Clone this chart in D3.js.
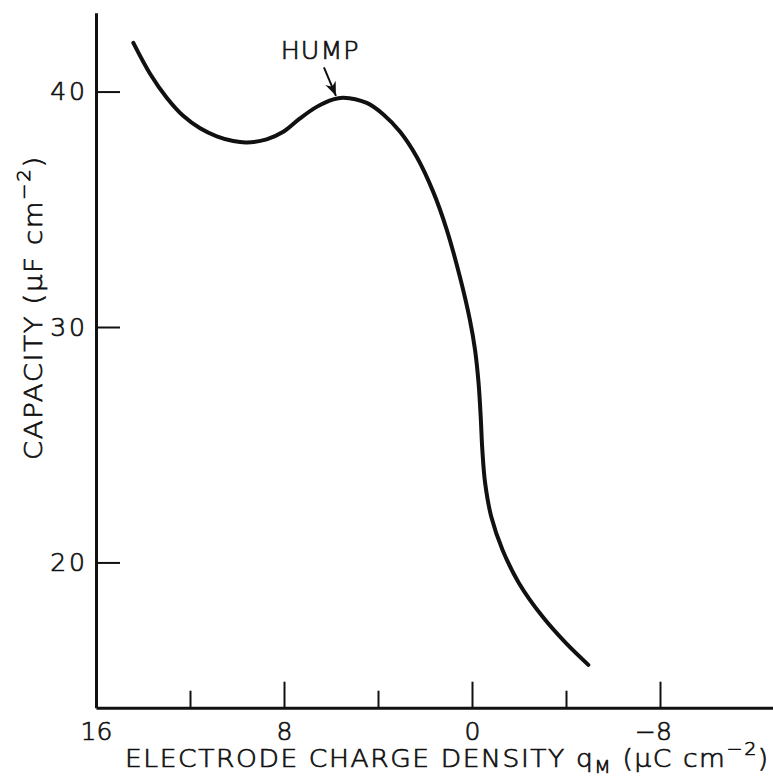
<!DOCTYPE html>
<html>
<head>
<meta charset="utf-8">
<script src="https://cdn.jsdelivr.net/npm/d3@7"></script>
<style>
  body { margin: 0; background: #fff; }
  svg { display: block; }
  text { font-family: "DejaVu Sans", sans-serif; font-weight: 200; fill: #111; stroke: #111; stroke-width: 0.7px; }
</style>
</head>
<body>
<div id="chart"></div>
<script>
// curve: charge density (µC cm^-2) vs capacity (µF cm^-2)
const charge = [14.41, 13.70, 12.99, 12.29, 11.57, 10.86, 10.16, 9.59, 8.74, 8.03,
  7.32, 6.61, 5.90, 5.48, 4.48, 3.77, 3.06, 2.35, 1.65, 1.08, 0.51, 0.09,
  -0.13, -0.28, -0.37, -0.44, -0.56, -0.82, -1.30, -2.00, -3.00, -4.00, -4.95];
const capacity = [42.07, 40.76, 39.74, 38.97, 38.44, 38.10, 37.90, 37.84, 37.97, 38.29,
  38.86, 39.35, 39.67, 39.74, 39.52, 39.03, 38.29, 37.22, 35.74, 34.15, 32.11, 30.30,
  29.02, 27.61, 26.19, 24.78, 23.36, 21.94, 20.53, 19.12, 17.70, 16.57, 15.65];

const xMajorTicks = [16, 8, 0, -8];
const xMinorTicks = [12, 4, -4];
const yTicks = [20, 30, 40];

// hump annotation (label + arrow tail/tip), in data units
const humpLabel = { q: 8.14, c: 41.37, text: 'HUMP' };
const humpArrow = [[6.30, 41.03], [5.79, 39.82]];

const width = 773, height = 779;

const svg = d3.select('#chart')
  .append('svg')
  .attr('width', width)
  .attr('height', height);

const x = d3.scaleLinear().domain([16, -13]).range([96, 777.5]);
const y = d3.scaleLinear().domain([13.83, 43.35]).range([707.7, 12.7]);

// stretch a text (inside its own group) horizontally to a measured width
function stretchText(g, txt, px, py, rot, target) {
  let w = txt.node().getComputedTextLength();
  g.attr('transform', `translate(${px},${py}) rotate(${rot}) scale(${target / w},1)`);
}

// x axis: major ticks with labels
const xAxis = svg.append('g')
  .attr('transform', `translate(0,${y(13.83)})`)
  .call(d3.axisBottom(x)
    .tickValues(xMajorTicks)
    .tickSizeInner(-26)
    .tickSizeOuter(0)
    .tickPadding(15)
    .tickFormat(d => (d < 0 ? '\u2212' + Math.abs(d) : d)));

// minor ticks
svg.append('g')
  .attr('transform', `translate(0,${y(13.83)})`)
  .call(d3.axisBottom(x)
    .tickValues(xMinorTicks)
    .tickSizeInner(-17)
    .tickSizeOuter(0)
    .tickFormat(''))
  .select('.domain').remove();

const yAxis = svg.append('g')
  .attr('transform', `translate(${x(16)},0)`)
  .call(d3.axisLeft(y)
    .tickValues(yTicks)
    .tickSizeInner(-24)
    .tickSizeOuter(0)
    .tickPadding(8));

svg.selectAll('.domain').attr('stroke', '#111').attr('stroke-width', 3);
svg.selectAll('.tick line').attr('stroke', '#111').attr('stroke-width', 2);
svg.selectAll('.tick text')
  .style('font-family', '"DejaVu Sans", sans-serif')
  .style('font-weight', 200)
  .attr('font-size', 25)
  .attr('fill', '#111');
yAxis.selectAll('.tick text').attr('letter-spacing', 3);
xAxis.selectAll('.tick text')
  .filter(d => d < 0)
  .attr('dx', -7);

// the curve
const pts = charge.map((q, i) => [q, capacity[i]]);
const line = d3.line()
  .x(d => x(d[0]))
  .y(d => y(d[1]))
  .curve(d3.curveCatmullRom.alpha(0.5));

svg.append('path')
  .datum(pts)
  .attr('d', line)
  .attr('fill', 'none')
  .attr('stroke', '#111')
  .attr('stroke-width', 4)
  .attr('stroke-linecap', 'round')
  .attr('stroke-linejoin', 'round');

// hump label + arrow
svg.append('defs').append('marker')
  .attr('id', 'arrow')
  .attr('viewBox', '0 0 10 10')
  .attr('refX', 10).attr('refY', 5)
  .attr('markerWidth', 7).attr('markerHeight', 7)
  .attr('markerUnits', 'strokeWidth')
  .attr('orient', 'auto')
  .append('path')
  .attr('d', 'M0,1 L10,5 L0,9 L3,5 Z')
  .attr('fill', '#111');

svg.append('line')
  .attr('x1', x(humpArrow[0][0])).attr('y1', y(humpArrow[0][1]))
  .attr('x2', x(humpArrow[1][0])).attr('y2', y(humpArrow[1][1]))
  .attr('stroke', '#111')
  .attr('stroke-width', 2)
  .attr('marker-end', 'url(#arrow)');

const humpG = svg.append('g');
const hump = humpG.append('text')
  .attr('font-size', 24)
  .attr('letter-spacing', 1)
  .text(humpLabel.text);
stretchText(humpG, hump, x(humpLabel.q), y(humpLabel.c), 0, 79);

// x axis title
const xTitleG = svg.append('g');
const xTitle = xTitleG.append('text')
  .attr('font-size', 25)
  .attr('letter-spacing', 1.5);
xTitle.append('tspan').text('ELECTRODE CHARGE DENSITY q');
xTitle.append('tspan').attr('font-size', 18).attr('dy', 6).text('M');
xTitle.append('tspan').attr('dy', -6).text(' (\u03bcC cm');
xTitle.append('tspan').attr('font-size', 18).attr('dy', -12).text('\u22122');
xTitle.append('tspan').attr('dy', 12).text(')');
stretchText(xTitleG, xTitle, 125, 767, 0, 645);

// y axis title
const yTitleG = svg.append('g');
const yTitle = yTitleG.append('text')
  .attr('font-size', 25)
  .attr('letter-spacing', 1.5);
yTitle.append('tspan').text('CAPACITY (\u03bcF cm');
yTitle.append('tspan').attr('font-size', 18).attr('dy', -12).text('\u22122');
yTitle.append('tspan').attr('dy', 12).text(')');
stretchText(yTitleG, yTitle, 42, 460, -90, 305);
</script>
</body>
</html>
